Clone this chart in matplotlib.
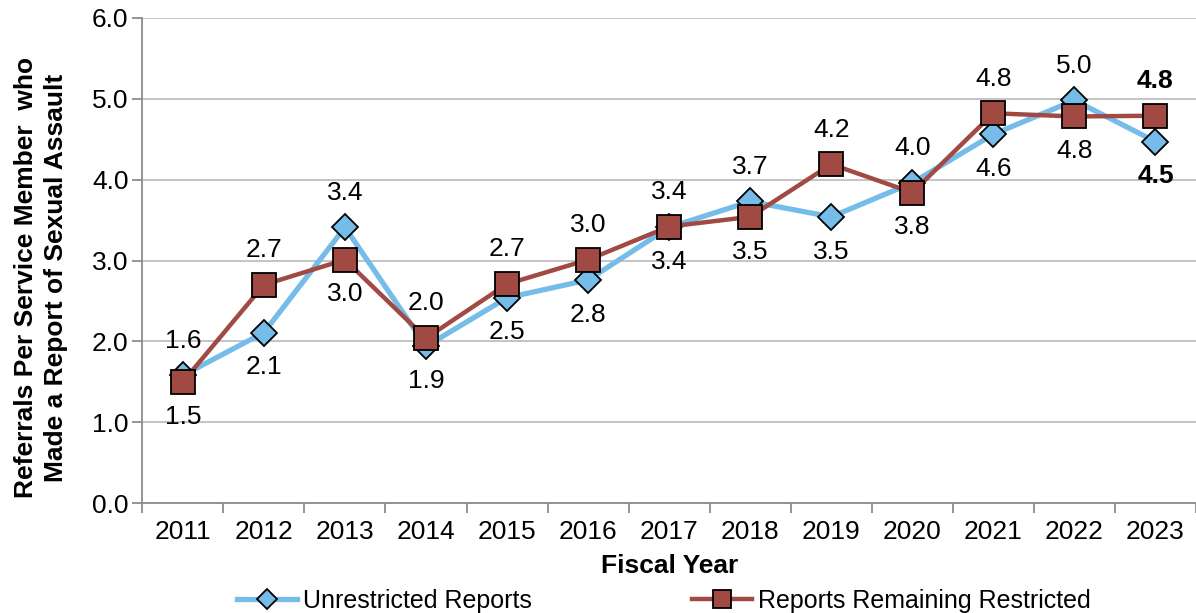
import numpy as np
import matplotlib.pyplot as plt

plt.rcParams['font.family'] = ['Liberation Sans', 'DejaVu Sans']

years = ['2011', '2012', '2013', '2014', '2015', '2016', '2017',
         '2018', '2019', '2020', '2021', '2022', '2023']
unrestricted = [1.58, 2.11, 3.41, 1.94, 2.54, 2.76, 3.41, 3.73, 3.54, 3.96, 4.56, 4.98, 4.47]
restricted = [1.50, 2.70, 3.01, 2.04, 2.71, 3.01, 3.42, 3.54, 4.19, 3.84, 4.82, 4.78, 4.79]
# label placement: +1 above the marker, -1 below
unres_pos = [1, -1, 1, -1, -1, -1, -1, 1, -1, 1, -1, 1, -1]
res_pos = [-1, 1, -1, 1, 1, 1, 1, -1, 1, -1, 1, -1, 1]

blue = '#75BDE8'
red = '#A14A44'
fs = 19

fig = plt.figure(figsize=(11.96, 6.13), dpi=100)
ax = fig.add_axes([0.119, 0.179, 0.881, 0.792])

x = np.arange(len(years))
ax.plot(x, unrestricted, color=blue, lw=3.8, marker='D', ms=13,
        mfc=blue, mec='black', mew=1.3, zorder=3, label='Unrestricted Reports')
ax.plot(x, restricted, color=red, lw=3.2, marker='s', ms=17,
        mfc=red, mec='black', mew=1.3, zorder=4, label='Reports Remaining Restricted')

last = len(years) - 1
for i in x:
    for vals, pos in ((unrestricted, unres_pos), (restricted, res_pos)):
        ax.annotate(f'{vals[i]:.1f}', (i, vals[i]), xytext=(0, 25 * pos[i]),
                    textcoords='offset points', ha='center', va='center',
                    fontsize=fs, fontweight='bold' if i == last else 'normal',
                    zorder=5)

ax.set_xlim(-0.5, len(years) - 0.5)
ax.set_ylim(0, 6)
ax.set_yticks(np.arange(0, 6.01, 1.0))
ax.set_yticklabels([f'{v:.1f}' for v in np.arange(0, 6.01, 1.0)])
ax.set_xticks(x)
ax.set_xticklabels(years)
ax.set_xticks(np.arange(-0.5, len(years)), minor=True)
ax.tick_params(axis='x', which='major', length=0, pad=12, labelsize=fs)
ax.tick_params(axis='x', which='minor', length=7, color='#8C8C8C', width=1.3)
ax.tick_params(axis='y', length=7, color='#8C8C8C', width=1.3, labelsize=fs, pad=3)

ax.grid(axis='y', color='#BFBFBF', lw=1.3)
ax.set_axisbelow(True)
for s in ('top', 'right'):
    ax.spines[s].set_visible(False)
for s in ('left', 'bottom'):
    ax.spines[s].set_color('#8C8C8C')
    ax.spines[s].set_linewidth(1.3)

ax.set_ylabel('Referrals Per Service Member  who\nMade a Report of Sexual Assault',
              fontsize=fs, fontweight='bold', linespacing=1.3)
ax.yaxis.set_label_coords(-0.071, 0.465)
ax.set_xlabel('Fiscal Year', fontsize=fs, fontweight='bold', labelpad=7)

leg = ax.legend(loc='upper center', bbox_to_anchor=(0.495, -0.155), ncol=2,
                frameon=False, columnspacing=6.4, handlelength=2.4,
                handletextpad=0.25, borderaxespad=0, markerscale=0.75,
                fontsize=18)

fig.savefig('out.png', dpi=100)
